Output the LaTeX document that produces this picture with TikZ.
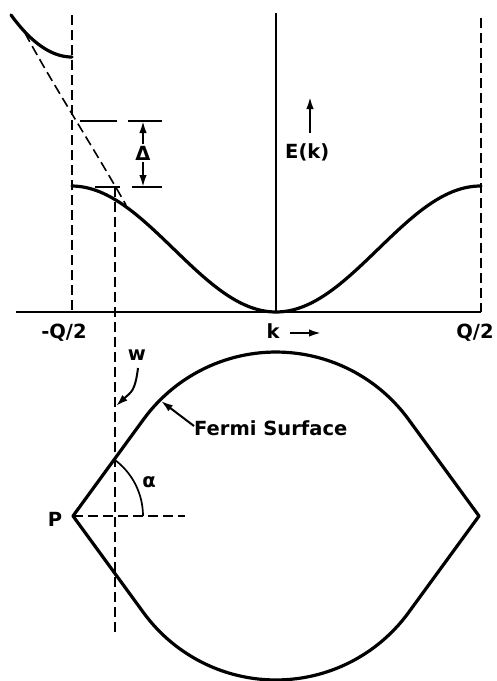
\documentclass[tikz,border=0pt]{standalone}
\usepackage{fontspec}
\setmainfont{DejaVu Sans}
\usetikzlibrary{arrows.meta}
\tikzset{
  curve/.style={line width=3.2pt, line cap=round, line join=round},
  axisline/.style={line width=1.7pt},
  dashline/.style={line width=1.6pt, dash pattern=on 10pt off 5pt},
  lbl/.style={font=\fontsize{19.5}{22}\selectfont\bfseries, inner sep=0pt},
  tip/.style={line width=2pt, -{Latex[length=12pt,width=7.5pt]}},
}
\begin{document}
\begin{tikzpicture}[x=1pt,y=-1pt]
\useasboundingbox (0,0) rectangle (497,681);
% key coordinates
\coordinate (Ltop) at (72,15);
\coordinate (Lbot) at (72,312);
\coordinate (Ctop) at (276,13);
\coordinate (Cbot) at (276,312);
\coordinate (Rtop) at (481,18);
\coordinate (Rbot) at (481,312);
\coordinate (Bl) at (16,312);
\coordinate (Wtop) at (115,187);
\coordinate (Wbot) at (115,635);
\coordinate (P) at (73,516);
\coordinate (Q) at (479,516);
\coordinate (ULt) at (143.5,419.4);
\coordinate (URt) at (408.5,419.4);
\coordinate (LRt) at (408.5,612.6);
\coordinate (Hend) at (185,516);
% axes and guide lines
\draw[axisline] (Bl) -- (Rbot);
\draw[axisline] (Ctop) -- (Cbot);
\draw[dashline] (Ltop) -- (Lbot);
\draw[dashline] (Rtop) -- (Rbot);
\draw[dashline] (Wtop) -- (Wbot);
% upper band piece
\draw[curve] plot[domain=11:72, samples=40] (\x, {57 - 0.0113*(72-\x)*(72-\x)});
% band E(k)
\draw[curve] plot[domain=72:481, samples=120] (\x, {249 + 63*cos(0.8802*(\x-276))});
% free-electron dashed tangent
\draw[dashline] (25,33) .. controls (50,80) and (95,150) .. (126,205);
% Delta marker
\coordinate (D1a) at (80,121); \coordinate (D1b) at (117,121);
\coordinate (D2a) at (128,121); \coordinate (D2b) at (162,121);
\coordinate (D3a) at (95,187); \coordinate (D3b) at (120,187);
\coordinate (D4a) at (132,187); \coordinate (D4b) at (162,187);
\draw[axisline] (D1a) -- (D1b);
\draw[axisline] (D2a) -- (D2b);
\draw[axisline] (D3a) -- (D3b);
\draw[axisline] (D4a) -- (D4b);
\node[lbl] (delta) at (143,153) {Δ};
\draw[tip] (delta.north) ++(0,-2) -- (143,121);
\draw[tip] (delta.south) ++(0,2) -- (143,187);
% E(k)
\node[lbl, anchor=west] (Ek) at (285,152) {E(k)};
\coordinate (EkTip) at (310,97);
\draw[tip] (310,133) -- (EkTip);
% axis labels
\node[lbl] (mq) at (64,333) {-Q/2};
\node[lbl] (k) at (273,331) {k};
\coordinate (kTip) at (321,333);
\draw[tip] (290,333) -- (kTip);
\node[lbl] (pq) at (475,333) {Q/2};
% Fermi surface
\draw[curve] (P) -- (ULt) arc[start angle=-143.9, end angle=-36.1, radius=164]
   -- (Q) -- (LRt) arc[start angle=36.1, end angle=143.9, radius=164] -- cycle;
\draw[dashline] (P) -- (Hend);
\draw[axisline] (143,516) arc[start angle=0, end angle=-53.9, radius=70];
\node[lbl] (P-l) at (55,519) {P};
\node[lbl] (alpha) at (149,482) {α};
\node[lbl] (w) at (137,355) {w};
\coordinate (wTip) at (116,406);
\draw[tip] (138,368) .. controls (135,392) and (131,392) .. (wTip);
\node[lbl, anchor=west] (fs) at (194,428) {Fermi Surface};
\coordinate (fsTip) at (161,401);
\draw[tip] (fs.west) ++(0,-2) -- (fsTip);
\end{tikzpicture}
\end{document}
